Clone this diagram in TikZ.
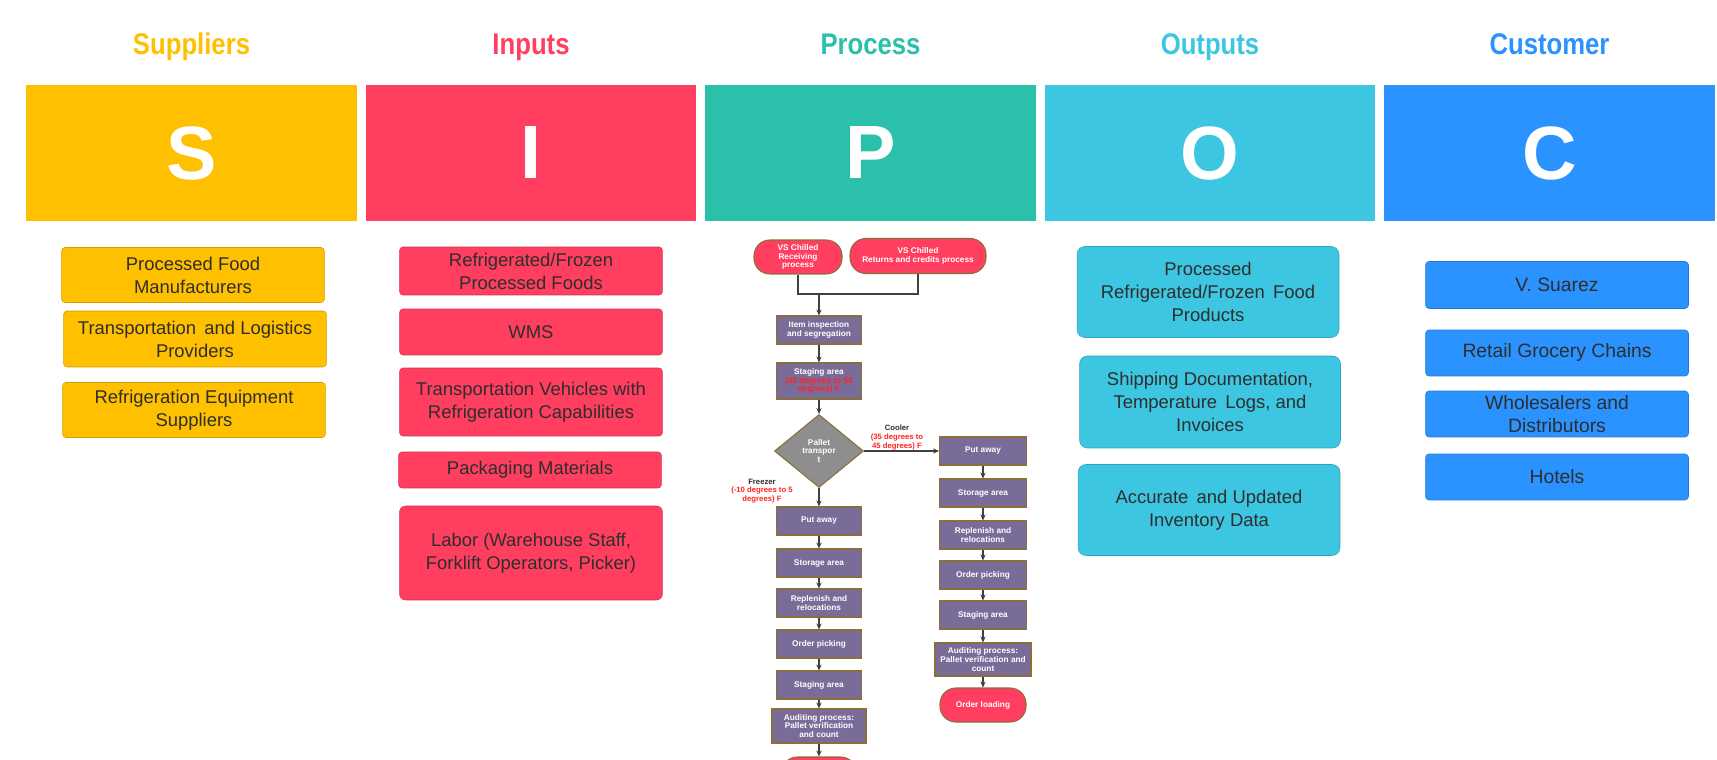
\documentclass[tikz,border=0pt]{standalone}
\usepackage{fontspec}
\setmainfont{Liberation Sans}
\newfontfamily\headfont[FakeStretch=0.86]{Liberation Sans}
\usetikzlibrary{shapes.geometric,arrows.meta}

\definecolor{supY}{HTML}{FFC000}
\definecolor{inR}{HTML}{FF3E60}
\definecolor{proT}{HTML}{2BC0AA}
\definecolor{outC}{HTML}{3DC6E1}
\definecolor{cusB}{HTML}{2B93FF}
\definecolor{ink}{HTML}{2E2E2E}
\definecolor{lav}{HTML}{7A6C98}
\definecolor{rim}{HTML}{8B6F3A}
\definecolor{hot}{HTML}{FF2222}
\definecolor{slate}{HTML}{8E8E8E}

\tikzset{
  title/.style={inner sep=0pt, anchor=base, font=\headfont\bfseries\fontsize{17}{20}\selectfont},
  letter/.style={fill=#1, minimum width=6.62cm, minimum height=2.72cm, inner sep=0pt,
    text=white, font=\bfseries\fontsize{43}{48}\selectfont},
  card/.style={fill=#1, draw=#1!82!black, line width=0.3pt, rounded corners=2pt,
    text=ink, align=center, inner sep=0pt, minimum width=5.26cm,
    font=\fontsize{10.5}{13}\selectfont},
  stepbox/.style={fill=lav, draw=rim, line width=0.6pt, text=white, align=center,
    inner sep=0pt, minimum width=1.7cm, minimum height=0.56cm,
    font=\bfseries\fontsize{4.7}{5}\selectfont},
  pill/.style={stepbox, fill=inR, rounded corners=9pt},
  gate/.style={diamond, fill=slate, draw=rim, line width=0.6pt, text=white, align=center,
    inner sep=0pt, minimum width=1.78cm, minimum height=1.46cm,
    font=\bfseries\fontsize{4.7}{5}\selectfont},
  tag/.style={align=center, inner sep=0pt, text=ink, font=\bfseries\fontsize{4.4}{4.9}\selectfont},
  flow/.style={draw=black!75, line width=0.7pt, -{Stealth[length=3.4pt,width=3pt]}},
  link/.style={draw=black!75, line width=0.7pt}
}

\begin{document}
\begin{tikzpicture}[x=0.02cm, y=-0.02cm]
\useasboundingbox (0,0) rectangle (1717,760);
\clip (0,0) rectangle (1717,760);

% titles
\node[title, text=supY] (tS) at (191.5,55) {Suppliers};
\node[title, text=inR] (tI) at (531,55) {Inputs};
\node[title, text=proT] (tP) at (870.5,55) {Process};
\node[title, text=outC] (tO) at (1210,55) {Outputs};
\node[title, text=cusB] (tC) at (1549.5,55) {Customer};

% letter blocks
\node[letter=supY] (hS) at (191.5,153) {S};
\node[letter=inR] (hI) at (531,153) {I};
\node[letter=proT] (hP) at (870.5,153) {P};
\node[letter=outC] (hO) at (1210,153) {O};
\node[letter=cusB] (hC) at (1549.5,153) {C};

% suppliers
\node[card=supY, minimum height=1.1cm] (s1) at (193,275) {Processed Food\\Manufacturers};
\node[card=supY, minimum height=1.12cm] (s2) at (195,339) {Transportation\, and Logistics\\Providers};
\node[card=supY, minimum height=1.1cm] (s3) at (194,410) {Refrigeration Equipment\\Suppliers};

% inputs
\node[card=inR, minimum height=0.96cm] (i1) at (531,271) {Refrigerated/Frozen\\Processed Foods};
\node[card=inR, minimum height=0.92cm] (i2) at (531,332) {WMS};
\node[card=inR, minimum height=1.36cm] (i3) at (531,402) {Transportation Vehicles with\\Refrigeration Capabilities};
\node[card=inR, minimum height=0.72cm] (i4) at (530,470) {Packaging Materials};
\node[card=inR, minimum height=1.88cm, rounded corners=3.5pt] (i5) at (531,553) {Labor (Warehouse Staff,\\Forklift Operators, Picker)};

% process: start
\node[pill, minimum width=1.76cm, minimum height=0.68cm] (st1) at (798,257) {VS Chilled\\Receiving\\process};
\node[pill, minimum width=2.72cm, minimum height=0.7cm] (st2) at (918,256) {VS Chilled\\Returns and credits process};
\coordinate (jn) at (819,294);
\draw[link] (st1.south) |- (jn) -| (st2.south);

\node[stepbox] (insp) at (819,330) {Item inspection\\and segregation};
\node[stepbox, minimum height=0.72cm] (stg) at (819,381) {Staging area\\{\color{hot}(40 degrees to 50}\\{\color{hot}degrees) F}};
\node[gate] (pal) at (819,451) {Pallet\\transpor\\t};

% process: freezer side
\node[stepbox] (pa1) at (819,521) {Put away};
\node[stepbox] (sa1) at (819,563) {Storage area};
\node[stepbox] (rr1) at (819,603) {Replenish and\\relocations};
\node[stepbox] (op1) at (819,644) {Order picking};
\node[stepbox] (sg1) at (819,685) {Staging area};
\node[stepbox, minimum width=1.88cm, minimum height=0.68cm] (au1) at (819,726) {Auditing process:\\Pallet verification\\and count};
\node[pill, minimum width=1.5cm, minimum height=0.68cm] (ol1) at (819,774) {};

% process: cooler side
\node[stepbox, minimum width=1.74cm] (pa2) at (983,451) {Put away};
\node[stepbox, minimum width=1.74cm] (sa2) at (983,493) {Storage area};
\node[stepbox, minimum width=1.74cm] (rr2) at (983,535) {Replenish and\\relocations};
\node[stepbox, minimum width=1.74cm] (op2) at (983,575) {Order picking};
\node[stepbox, minimum width=1.74cm] (sg2) at (983,615) {Staging area};
\node[stepbox, minimum width=1.92cm, minimum height=0.66cm] (au2) at (983,659.5) {Auditing process:\\Pallet verification and\\count};
\node[pill, minimum width=1.72cm, minimum height=0.68cm] (ol2) at (983,705) {Order loading};

% branch labels
\node[tag] (cool) at (897,437.5) {Cooler\\{\color{hot}(35 degrees to}\\{\color{hot}45 degrees) F}};
\node[tag] (frz) at (762,491) {Freezer\\{\color{hot}(-10 degrees to 5}\\{\color{hot}degrees) F}};

% arrows
\draw[flow] (jn) -- (insp);
\draw[flow] (insp) -- (stg);
\draw[flow] (stg) -- (pal);
\draw[flow] (pal.east) -- (pa2.west);
\draw[flow] (pal.south) -- (pa1.north);
\draw[flow] (pa1) -- (sa1);
\draw[flow] (sa1) -- (rr1);
\draw[flow] (rr1) -- (op1);
\draw[flow] (op1) -- (sg1);
\draw[flow] (sg1) -- (au1);
\draw[flow] (au1) -- (ol1);
\draw[flow] (pa2) -- (sa2);
\draw[flow] (sa2) -- (rr2);
\draw[flow] (rr2) -- (op2);
\draw[flow] (op2) -- (sg2);
\draw[flow] (sg2) -- (au2);
\draw[flow] (au2) -- (ol2);

% outputs
\node[card=outC, minimum width=5.24cm, minimum height=1.82cm, rounded corners=4.5pt] (o1) at (1208,292) {Processed\\Refrigerated/Frozen\, Food\\Products};
\node[card=outC, minimum width=5.22cm, minimum height=1.84cm, rounded corners=4.5pt] (o2) at (1210,402) {Shipping Documentation,\\Temperature\, Logs, and\\Invoices};
\node[card=outC, minimum width=5.24cm, minimum height=1.82cm, rounded corners=4.5pt] (o3) at (1209,510) {Accurate\, and Updated\\Inventory Data};

% customers
\node[card=cusB, minimum height=0.94cm, font=\fontsize{11}{13}\selectfont] (c1) at (1557,285) {V. Suarez};
\node[card=cusB, minimum height=0.92cm, font=\fontsize{11}{13}\selectfont] (c2) at (1557,353) {Retail Grocery Chains};
\node[card=cusB, minimum height=0.92cm, font=\fontsize{11}{13.5}\selectfont] (c3) at (1557,414) {Wholesalers and\\Distributors};
\node[card=cusB, minimum height=0.92cm, font=\fontsize{11}{13}\selectfont] (c4) at (1557,477) {Hotels};
\end{tikzpicture}
\end{document}
